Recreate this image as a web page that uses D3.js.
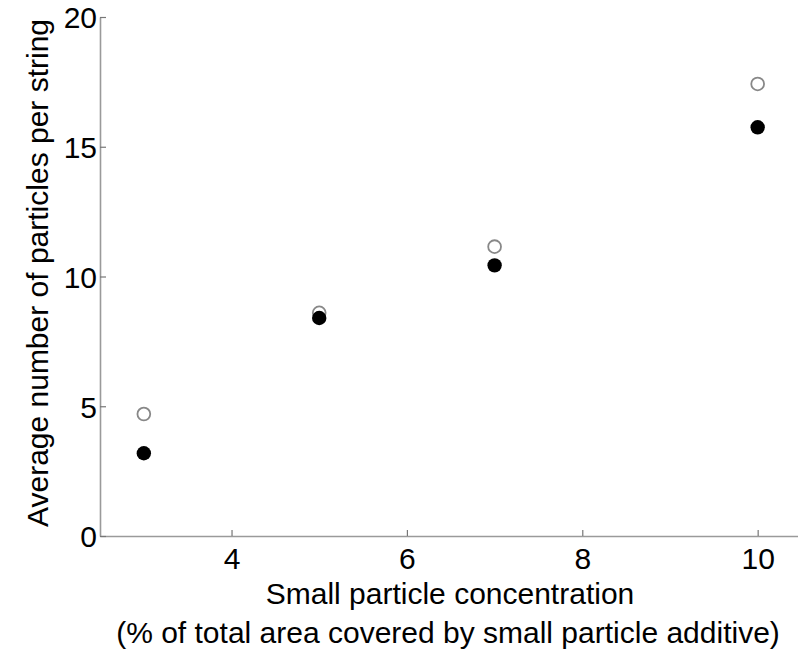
<!DOCTYPE html>
<html>
<head>
<meta charset="utf-8">
<script src="https://cdn.jsdelivr.net/npm/d3@7"></script>
<style>
  html, body { margin: 0; padding: 0; background: #fff; }
  svg { display: block; }
  text { font-family: "Liberation Sans", Arial, Helvetica, sans-serif; fill: #000; }
</style>
</head>
<body>
<svg id="chart" width="798" height="653"></svg>
<script>
// Data
const concentrations = [3, 5, 7, 10];
const openValues = [4.70, 8.60, 11.15, 17.42];
const filledValues = [3.19, 8.40, 10.43, 15.75];
const xTicks = [4, 6, 8, 10];
const yTicks = [0, 5, 10, 15, 20];
const xLabelLine1 = "Small particle concentration";
const xLabelLine2 = "(% of total area covered by small particle additive)";
const yLabel = "Average number of particles per string";

const svg = d3.select("#chart");
const plotLeft = 100, plotRight = 798, plotTop = 17, plotBottom = 536;

const x = d3.scaleLinear().domain([2.5, 10.46]).range([plotLeft, plotRight]);
const y = d3.scaleLinear().domain([0, 20]).range([plotBottom, plotTop]);

const axisColor = "#9a9a9a";
const fs = 30;

// Axes
const xAxis = svg.append("g").attr("transform", `translate(0,${plotBottom})`)
  .call(d3.axisBottom(x).tickValues(xTicks).tickSizeInner(-6).tickSizeOuter(0).tickPadding(12));
const yAxis = svg.append("g").attr("transform", `translate(${plotLeft},0)`)
  .call(d3.axisLeft(y).tickValues(yTicks).tickSizeInner(-6).tickSizeOuter(0).tickPadding(3));

[xAxis, yAxis].forEach(g => {
  g.select(".domain").attr("stroke", axisColor).attr("stroke-width", 1.6);
  g.selectAll(".tick line").attr("stroke", "#777").attr("stroke-width", 1.2);
  g.selectAll(".tick text").attr("font-size", fs).attr("font-family", "Liberation Sans, Arial, sans-serif").attr("fill", "#000");
});
xAxis.selectAll(".tick text").attr("dy", "0.71em");
yAxis.selectAll(".tick text").attr("dy", "0.36em");

// Points
svg.append("g").selectAll("circle.open")
  .data(concentrations.map((c, i) => [c, openValues[i]]))
  .join("circle")
  .attr("class", "open")
  .attr("cx", d => x(d[0])).attr("cy", d => y(d[1])).attr("r", 6.4)
  .attr("fill", "#fff").attr("stroke", "#888").attr("stroke-width", 1.8);

svg.append("g").selectAll("circle.filled")
  .data(concentrations.map((c, i) => [c, filledValues[i]]))
  .join("circle")
  .attr("class", "filled")
  .attr("cx", d => x(d[0])).attr("cy", d => y(d[1])).attr("r", 7.2)
  .attr("fill", "#000");

// Axis labels
svg.append("text").attr("x", 450).attr("y", 604).attr("text-anchor", "middle")
  .attr("font-size", fs).text(xLabelLine1);
svg.append("text").attr("x", 448).attr("y", 643).attr("text-anchor", "middle")
  .attr("font-size", fs).text(xLabelLine2);
svg.append("text").attr("transform", `translate(48,273) rotate(-90)`)
  .attr("text-anchor", "middle").attr("font-size", fs).text(yLabel);
</script>
</body>
</html>
